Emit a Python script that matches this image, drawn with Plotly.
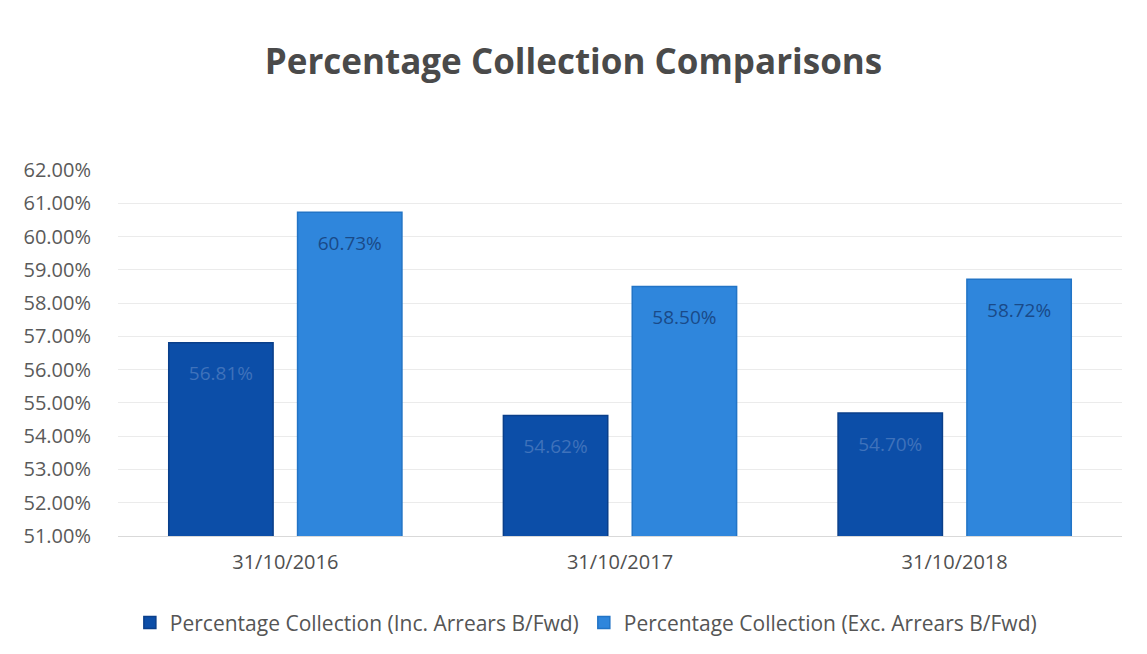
import plotly.graph_objects as go

categories = ["31/10/2016", "31/10/2017", "31/10/2018"]
inc_values = [56.81, 54.62, 54.70]
exc_values = [60.73, 58.50, 58.72]
series_names = ["Percentage Collection (Inc. Arrears B/Fwd)", "Percentage Collection (Exc. Arrears B/Fwd)"]
y_ticks = [51, 52, 53, 54, 55, 56, 57, 58, 59, 60, 61, 62]

font_family = "Open Sans, Lato, sans-serif"


def label(v):
    return f"<span style='font-size:9px'> </span><br>{v:.2f}%"


fig = go.Figure()
fig.add_trace(go.Bar(
    x=categories, y=inc_values, name=series_names[0],
    marker=dict(color="#0c4ea8", line=dict(color="#0a3f8a", width=1.5)),
    text=[label(v) for v in inc_values], textposition="inside", insidetextanchor="end",
    textfont=dict(color="#3f72bb", size=19, family=font_family),
    textangle=0,
))
fig.add_trace(go.Bar(
    x=categories, y=exc_values, name=series_names[1],
    marker=dict(color="#2f86dc", line=dict(color="#2274c6", width=1.5)),
    text=[label(v) for v in exc_values], textposition="inside", insidetextanchor="end",
    textfont=dict(color="#1a4a88", size=19, family=font_family),
    textangle=0,
))
fig.update_layout(
    width=1147, height=654,
    paper_bgcolor="white", plot_bgcolor="white",
    margin=dict(l=118, r=25, t=170, b=117),
    title=dict(text="<b>Percentage Collection Comparisons</b>", x=0.5, xanchor="center",
               y=1 - 62 / 654, yanchor="middle",
               font=dict(size=35, color="#4a4a4a", family=font_family)),
    barmode="group", bargap=0.23, bargroupgap=0.19,
    font=dict(family=font_family, color="#595959"),
    xaxis=dict(tickfont=dict(size=20, color="#505050"), showline=True, linecolor="#d9d9d9",
               ticks="", showgrid=False, ticklabelstandoff=8),
    yaxis=dict(range=[51, 62], tickvals=y_ticks, ticktext=[f"{v:.2f}%" for v in y_ticks],
               tickfont=dict(size=20, color="#5a5a5a"), gridcolor="#ebebeb", zeroline=False,
               showline=False, ticklabelstandoff=26, automargin=False),
    legend=dict(orientation="h", x=0.466, xanchor="center", y=-0.234, yanchor="middle",
                font=dict(size=21, color="#555555"), itemwidth=30),
)
fig.write_html("out.html", config={"displayModeBar": False},
               post_script="document.body.style.margin='0';window.dispatchEvent(new Event('resize'));")
